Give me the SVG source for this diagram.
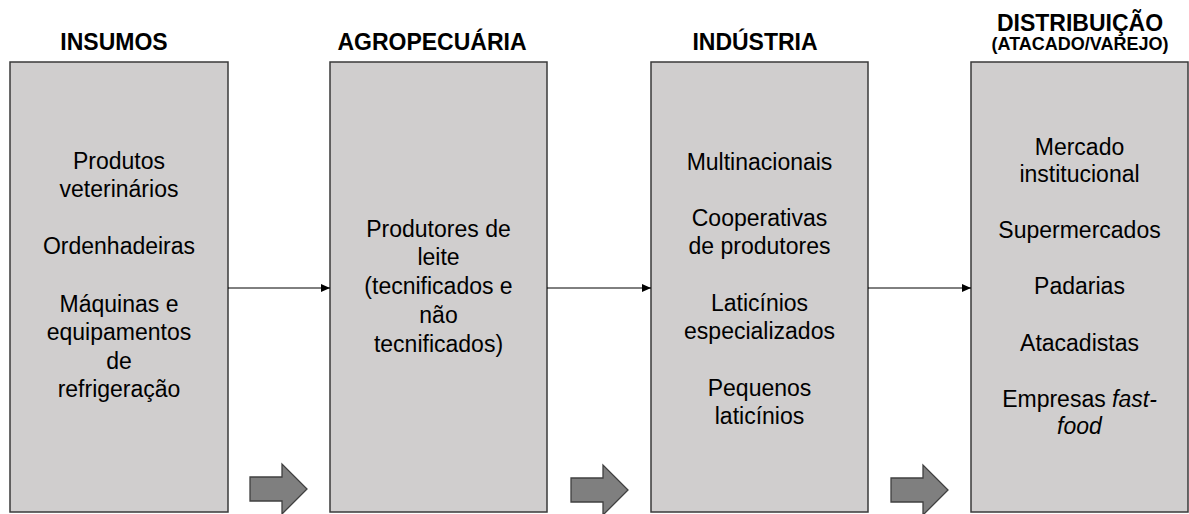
<svg xmlns="http://www.w3.org/2000/svg" width="1189" height="514" viewBox="0 0 1189 514">
<defs>
<style>
.box{fill:#d0cece;stroke:#3a3a3a;stroke-width:1.5}
.hd{font-family:"Liberation Sans",Arial,sans-serif;font-weight:bold;font-size:23px;fill:#000;text-anchor:middle}
.sub{font-size:18px}
.tx{font-family:"Liberation Sans",Arial,sans-serif;font-size:23px;fill:#000;text-anchor:middle}
.ln{stroke:#000;stroke-width:1;fill:none}
.blk{fill:#7f7f7f;stroke:#404040;stroke-width:1.3}
</style>
<marker id="ah" markerWidth="10" markerHeight="8" refX="9" refY="4" orient="auto" markerUnits="userSpaceOnUse">
<path d="M0,0 L9,4 L0,8 Z" fill="#000"/>
</marker>
<path id="bigArrow" d="M0,-12 L32,-12 L32,-25 L57,0 L32,25 L32,12 L0,12 Z"/>
</defs>
<rect width="1189" height="514" fill="#fff"/>

<g id="insumos">
<text class="hd" x="114" y="50">INSUMOS</text>
<rect class="box" x="10" y="62" width="218" height="450"/>
<text class="tx" x="119" y="169">Produtos</text>
<text class="tx" x="119" y="197">veterinários</text>
<text class="tx" x="119" y="254">Ordenhadeiras</text>
<text class="tx" x="119" y="312">Máquinas e</text>
<text class="tx" x="119" y="340">equipamentos</text>
<text class="tx" x="119" y="369">de</text>
<text class="tx" x="119" y="397">refrigeração</text>
</g>

<g id="agropecuaria">
<text class="hd" x="432" y="50">AGROPECUÁRIA</text>
<rect class="box" x="330" y="62" width="217" height="450"/>
<text class="tx" x="438.5" y="237">Produtores de</text>
<text class="tx" x="438.5" y="265">leite</text>
<text class="tx" x="438.5" y="294">(tecnificados e</text>
<text class="tx" x="438.5" y="323">não</text>
<text class="tx" x="438.5" y="352">tecnificados)</text>
</g>

<g id="industria">
<text class="hd" x="755" y="50">INDÚSTRIA</text>
<rect class="box" x="651" y="62" width="217" height="450"/>
<text class="tx" x="759.5" y="170">Multinacionais</text>
<text class="tx" x="759.5" y="226">Cooperativas</text>
<text class="tx" x="759.5" y="254">de produtores</text>
<text class="tx" x="759.5" y="311">Laticínios</text>
<text class="tx" x="759.5" y="339">especializados</text>
<text class="tx" x="759.5" y="396">Pequenos</text>
<text class="tx" x="759.5" y="424">laticínios</text>
</g>

<g id="distribuicao">
<text class="hd" x="1080" y="31">DISTRIBUIÇÃO</text>
<text class="hd sub" x="1080" y="50">(ATACADO/VAREJO)</text>
<rect class="box" x="971" y="62" width="217" height="450"/>
<text class="tx" x="1079.5" y="155">Mercado</text>
<text class="tx" x="1079.5" y="182">institucional</text>
<text class="tx" x="1079.5" y="238">Supermercados</text>
<text class="tx" x="1079.5" y="294">Padarias</text>
<text class="tx" x="1079.5" y="351">Atacadistas</text>
<text class="tx" x="1079.5" y="407">Empresas <tspan font-style="italic">fast-</tspan></text>
<text class="tx" x="1079.5" y="434" font-style="italic">food</text>
</g>

<g id="connectors">
<line class="ln" x1="228" y1="288" x2="330" y2="288" marker-end="url(#ah)"/>
<line class="ln" x1="547" y1="288" x2="651" y2="288" marker-end="url(#ah)"/>
<line class="ln" x1="868" y1="288" x2="971" y2="288" marker-end="url(#ah)"/>
<use href="#bigArrow" class="blk" x="250" y="489"/>
<use href="#bigArrow" class="blk" x="571" y="490"/>
<use href="#bigArrow" class="blk" x="891" y="490"/>
</g>
</svg>
